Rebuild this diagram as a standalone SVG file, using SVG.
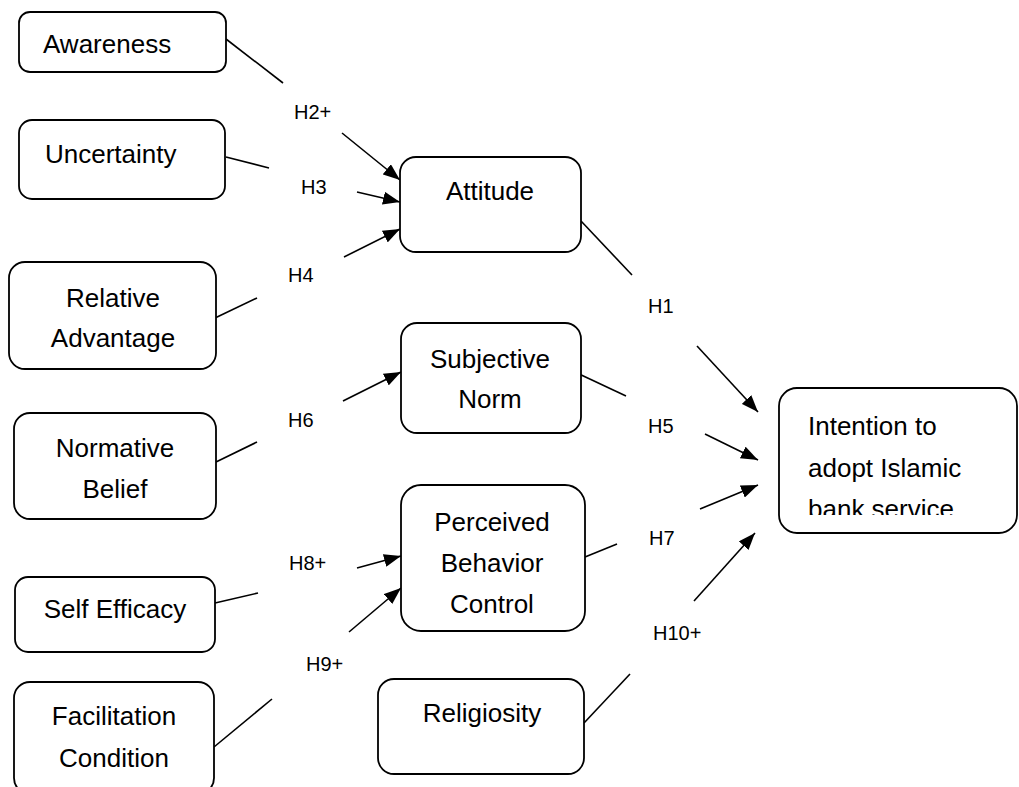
<svg xmlns="http://www.w3.org/2000/svg" width="1019" height="787" viewBox="0 0 1019 787">
<style>
  .box { fill: #ffffff; stroke: #000000; stroke-width: 1.8; }
  .nt { font-family: "Liberation Sans", Arial, sans-serif; font-size: 26px; fill: #000000; }
  .mid { text-anchor: middle; }
  .lbl { font-family: "Liberation Sans", Arial, sans-serif; font-size: 20px; fill: #000000; }
  .ln { stroke: #000000; stroke-width: 1.6; fill: none; }
</style>
<defs>
  <marker id="arr" markerUnits="userSpaceOnUse" markerWidth="17" markerHeight="13" refX="17" refY="6.5" orient="auto">
    <path d="M0,0 L17,6.5 L0,13 z" fill="#000000"/>
  </marker>
  <clipPath id="clipInt">
    <rect x="779" y="388" width="240" height="127"/>
  </clipPath>
</defs>
<rect width="1019" height="787" fill="#ffffff"/>

<g id="connectors">
  <line class="ln" x1="226" y1="39" x2="283" y2="83"/>
  <line class="ln" x1="342" y1="133" x2="400" y2="180" marker-end="url(#arr)"/>
  <line class="ln" x1="226" y1="157" x2="269" y2="168"/>
  <line class="ln" x1="357" y1="192" x2="400" y2="202" marker-end="url(#arr)"/>
  <line class="ln" x1="215" y1="318" x2="257" y2="298"/>
  <line class="ln" x1="344" y1="257" x2="400" y2="229" marker-end="url(#arr)"/>
  <line class="ln" x1="216" y1="462" x2="257" y2="442"/>
  <line class="ln" x1="343" y1="401" x2="401" y2="372" marker-end="url(#arr)"/>
  <line class="ln" x1="215" y1="603" x2="258" y2="593"/>
  <line class="ln" x1="357" y1="568" x2="401" y2="556" marker-end="url(#arr)"/>
  <line class="ln" x1="214" y1="747" x2="272" y2="699"/>
  <line class="ln" x1="349" y1="632" x2="401" y2="588" marker-end="url(#arr)"/>
  <line class="ln" x1="581" y1="221" x2="632" y2="275"/>
  <line class="ln" x1="697" y1="346" x2="758" y2="412" marker-end="url(#arr)"/>
  <line class="ln" x1="577" y1="373" x2="626" y2="396"/>
  <line class="ln" x1="705" y1="434" x2="758" y2="460" marker-end="url(#arr)"/>
  <line class="ln" x1="585" y1="557" x2="617" y2="544"/>
  <line class="ln" x1="700" y1="509" x2="758" y2="485" marker-end="url(#arr)"/>
  <line class="ln" x1="584" y1="723" x2="630" y2="674"/>
  <line class="ln" x1="694" y1="601" x2="755" y2="533" marker-end="url(#arr)"/>
  <text class="lbl" x="294" y="119">H2+</text>
  <text class="lbl" x="301" y="194">H3</text>
  <text class="lbl" x="288" y="282">H4</text>
  <text class="lbl" x="288" y="427">H6</text>
  <text class="lbl" x="289" y="570">H8+</text>
  <text class="lbl" x="306" y="671">H9+</text>
  <text class="lbl" x="648" y="313">H1</text>
  <text class="lbl" x="648" y="433">H5</text>
  <text class="lbl" x="649" y="545">H7</text>
  <text class="lbl" x="653" y="640">H10+</text>
</g>

<g id="awareness">
  <rect class="box" x="19" y="12" width="207" height="60" rx="11"/>
  <text class="nt" x="43" y="53">Awareness</text>
</g>
<g id="uncertainty">
  <rect class="box" x="19" y="120" width="206" height="79" rx="13"/>
  <text class="nt" x="45" y="163">Uncertainty</text>
</g>
<g id="relative-advantage">
  <rect class="box" x="9" y="262" width="207" height="107" rx="16"/>
  <text class="nt mid" x="113" y="307">Relative</text>
  <text class="nt mid" x="113" y="347">Advantage</text>
</g>
<g id="normative-belief">
  <rect class="box" x="14" y="413" width="202" height="106" rx="16"/>
  <text class="nt mid" x="115" y="457">Normative</text>
  <text class="nt mid" x="115" y="498">Belief</text>
</g>
<g id="self-efficacy">
  <rect class="box" x="15" y="577" width="200" height="75" rx="13"/>
  <text class="nt mid" x="115" y="618">Self Efficacy</text>
</g>
<g id="facilitation-condition">
  <rect class="box" x="14" y="682" width="200" height="112" rx="16"/>
  <text class="nt mid" x="114" y="725">Facilitation</text>
  <text class="nt mid" x="114" y="767">Condition</text>
</g>
<g id="attitude">
  <rect class="box" x="400" y="157" width="181" height="95" rx="16"/>
  <text class="nt mid" x="490" y="200">Attitude</text>
</g>
<g id="subjective-norm">
  <rect class="box" x="401" y="323" width="180" height="110" rx="16"/>
  <text class="nt mid" x="490" y="368">Subjective</text>
  <text class="nt mid" x="490" y="408">Norm</text>
</g>
<g id="perceived-behavior-control">
  <rect class="box" x="401" y="485" width="184" height="146" rx="20"/>
  <text class="nt mid" x="492" y="531">Perceived</text>
  <text class="nt mid" x="492" y="572">Behavior</text>
  <text class="nt mid" x="492" y="613">Control</text>
</g>
<g id="religiosity">
  <rect class="box" x="378" y="679" width="206" height="95" rx="16"/>
  <text class="nt mid" x="482" y="722">Religiosity</text>
</g>
<g id="intention">
  <rect class="box" x="779" y="388" width="238" height="145" rx="18"/>
  <g clip-path="url(#clipInt)">
    <text class="nt" x="808" y="435">Intention to</text>
    <text class="nt" x="808" y="477">adopt Islamic</text>
    <text class="nt" x="808" y="518">bank service</text>
  </g>
</g>
</svg>
